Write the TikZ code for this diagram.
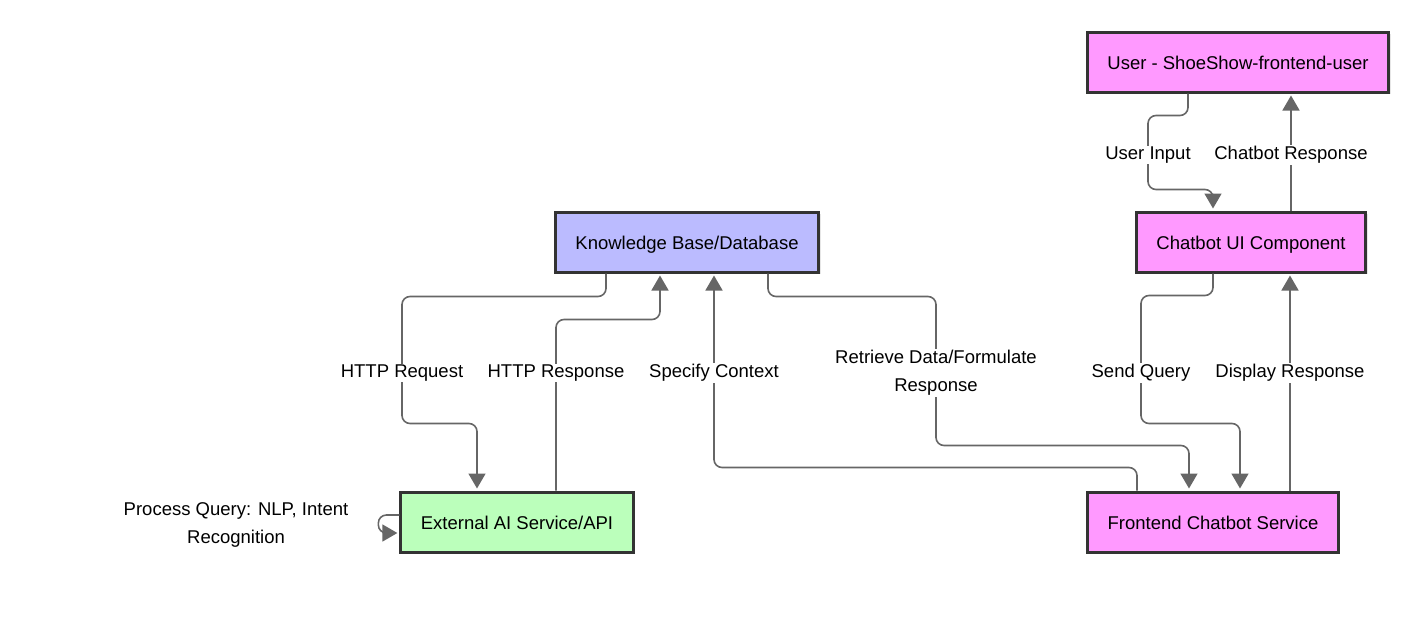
\documentclass[tikz,border=0pt]{standalone}
\usepackage{fontspec}
\setmainfont{Liberation Sans}
\usepackage{tikz}
\usetikzlibrary{arrows.meta, shadows, positioning}
\definecolor{pinkfill}{HTML}{FF99FF}
\definecolor{bluefill}{HTML}{BBBBFF}
\definecolor{greenfill}{HTML}{BBFFBB}
\definecolor{edgegray}{HTML}{666666}
\definecolor{boxline}{HTML}{333333}
\tikzstyle{arrow} = [line width=1.6pt, draw=edgegray, rounded corners=8pt, shorten >=2pt, -{Triangle[length=15pt,width=17pt]}]
\tikzstyle{component} = [rectangle, minimum height=60pt, inner xsep=20pt, text height=19.5pt, text depth=3.9pt, draw=boxline, line width=3pt, font=\fontsize{18.5}{22}\selectfont, drop shadow={shadow xshift=2pt, shadow yshift=-2pt, opacity=0.2}]
\tikzstyle{label} = [fill=white, inner sep=1pt, align=center, yshift=-3pt, font=\fontsize{18.5}{28}\selectfont]

\begin{document}
\begin{tikzpicture}[x=1pt, y=1pt]
\useasboundingbox (0,0) rectangle (1401,-627);

% Knowledge base:
\node(knowledge)[component, fill=bluefill] at (687,-242) {Knowledge Base/Database};

% Chatbot UI:
\node(chatui)[component, fill=pinkfill, right of=knowledge, node distance=564pt] {Chatbot UI Component};

% User:
\node(user)[component, fill=pinkfill, above of=chatui, node distance=180pt, xshift=-13pt] {User - ShoeShow-frontend-user};

% Frontend service:
\node(frontend)[component, fill=pinkfill, below of=chatui, node distance=280pt, xshift=-38pt] {Frontend Chatbot Service};

% External AI:
\node(external)[component, fill=greenfill, below of=knowledge, node distance=280pt, xshift=-170pt] {External AI Service/API};

% User <-> Chatbot UI
\draw[arrow] ([xshift=-50pt]user.south) -- ++(0,-22pt) -| ++(-40pt,-74pt) -| ([xshift=-38pt]chatui.north);
\draw[arrow] ([xshift=40pt]chatui.north) -- ([xshift=53pt]user.south);

% Chatbot UI <-> Frontend
\draw[arrow] ([xshift=-38pt]chatui.south) -- ++(0,-22pt) -| ++(-72pt,-128pt) -| ([xshift=27pt]frontend.north);
\draw[arrow] ([xshift=77pt]frontend.north) -- ([xshift=39pt]chatui.south);

% Knowledge <-> External
\draw[arrow] ([xshift=-81pt]knowledge.south) -- ++(0,-23pt) -| ++(-204pt,-127pt) -| ([xshift=-40pt]external.north);
\draw[arrow] ([xshift=39pt]external.north) -- ++(0,171pt) -| ([xshift=-27pt]knowledge.south);

% Frontend <-> Knowledge
\draw[arrow] ([xshift=-76pt]frontend.north) -- ++(0,23pt) -| ([xshift=27pt]knowledge.south);
\draw[arrow] ([xshift=81pt]knowledge.south) -- ++(0,-23pt) -| ++(168pt,-149pt) -| ([xshift=-24pt]frontend.north);

% self loop
\draw[arrow] ([yshift=7pt]external.west) -- ++(-21pt,0) |- ([yshift=-11pt]external.west);

% labels
\node(lblinput)[label] at (1148,-152) {User Input};
\node(lblresp)[label] at (1291,-152) {Chatbot Response};
\node(lblsend)[label] at (1141,-370) {Send Query};
\node(lbldisplay)[label] at (1290,-370) {Display Response};
\node(lblreq)[label] at (402,-370) {HTTP Request};
\node(lblhttpresp)[label] at (556,-370) {HTTP Response};
\node(lblcontext)[label] at (714,-370) {Specify Context};
\node(lblretrieve)[label] at (936,-370) {Retrieve Data/Formulate\\Response};
\node(lblprocess)[label] at (236,-522) {Process Query: NLP, Intent\\Recognition};

\end{tikzpicture}
\end{document}
